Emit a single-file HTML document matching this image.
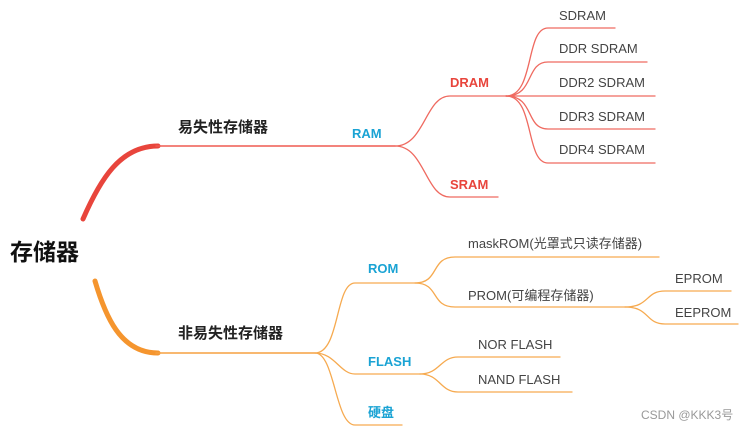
<!DOCTYPE html>
<html><head><meta charset="utf-8"><style>
html,body{margin:0;padding:0;background:#fff;}
svg{display:block;}
text{font-family:"Liberation Sans","Noto Sans CJK SC",sans-serif;}
</style></head><body>
<svg width="749" height="430" viewBox="0 0 749 430" xmlns="http://www.w3.org/2000/svg">
<g fill="none" stroke-linecap="round">
<!-- red main -->
<path d="M83 219 C100 180 120 146 158 146" stroke="#e8453c" stroke-width="5"/>
<path d="M156 146 L395 146" stroke="#ef5a50" stroke-width="1.5"/>
<g stroke="#ef6a60" stroke-width="1.3">
<path d="M395 146 C425 146 425 96 450 96 L506 96"/>
<path d="M395 146 C425 146 425 197 450 197 L498 197"/>
<path d="M506 96 C535 96 525 28 548 28 L615 28"/>
<path d="M506 96 C535 96 525 62 548 62 L647 62"/>
<path d="M506 96 L655 96"/>
<path d="M506 96 C535 96 525 129 548 129 L655 129"/>
<path d="M506 96 C535 96 525 163 548 163 L655 163"/>
</g>
<!-- orange main -->
<path d="M95 281 C105 315 120 353 158 353" stroke="#f5952e" stroke-width="5"/>
<path d="M156 353 L315 353" stroke="#f5a040" stroke-width="1.5"/>
<g stroke="#f6aa50" stroke-width="1.3">
<path d="M315 353 C340 353 335 283 355 283 L415 283"/>
<path d="M315 353 C335 353 340 374 355 374 L420 374"/>
<path d="M315 353 C335 353 335 425 355 425 L402 425"/>
<path d="M415 283 C440 283 430 257 455 257 L659 257"/>
<path d="M415 283 C440 283 430 307 455 307 L625 307"/>
<path d="M625 307 C650 307 645 291 665 291 L731 291"/>
<path d="M625 307 C650 307 645 324 665 324 L738 324"/>
<path d="M420 374 C440 374 440 357 458 357 L560 357"/>
<path d="M420 374 C440 374 440 392 458 392 L572 392"/>
</g>
</g>
<text x="10" y="260" font-size="23" font-weight="bold" fill="#111">存储器</text>
<text x="178" y="132" font-size="15" font-weight="bold" fill="#222">易失性存储器</text>
<text x="178" y="338" font-size="15" font-weight="bold" fill="#222">非易失性存储器</text>
<g font-size="13" font-weight="bold" fill="#1aa3d4">
<text x="352" y="138">RAM</text>
<text x="368" y="273">ROM</text>
<text x="368" y="366">FLASH</text>
<text x="368" y="417">硬盘</text>
</g>
<g font-size="13" font-weight="bold" fill="#e8453c">
<text x="450" y="87">DRAM</text>
<text x="450" y="189">SRAM</text>
</g>
<g font-size="13" fill="#444">
<text x="559" y="20">SDRAM</text>
<text x="559" y="53">DDR SDRAM</text>
<text x="559" y="87">DDR2 SDRAM</text>
<text x="559" y="121">DDR3 SDRAM</text>
<text x="559" y="154">DDR4 SDRAM</text>
<text x="468" y="248">maskROM(光罩式只读存储器)</text>
<text x="468" y="300">PROM(可编程存储器)</text>
<text x="675" y="283">EPROM</text>
<text x="675" y="317">EEPROM</text>
<text x="478" y="349">NOR FLASH</text>
<text x="478" y="384">NAND FLASH</text>
</g>
<text x="641" y="419" font-size="12" fill="#999">CSDN @KKK3号</text>
</svg>
</body></html>
